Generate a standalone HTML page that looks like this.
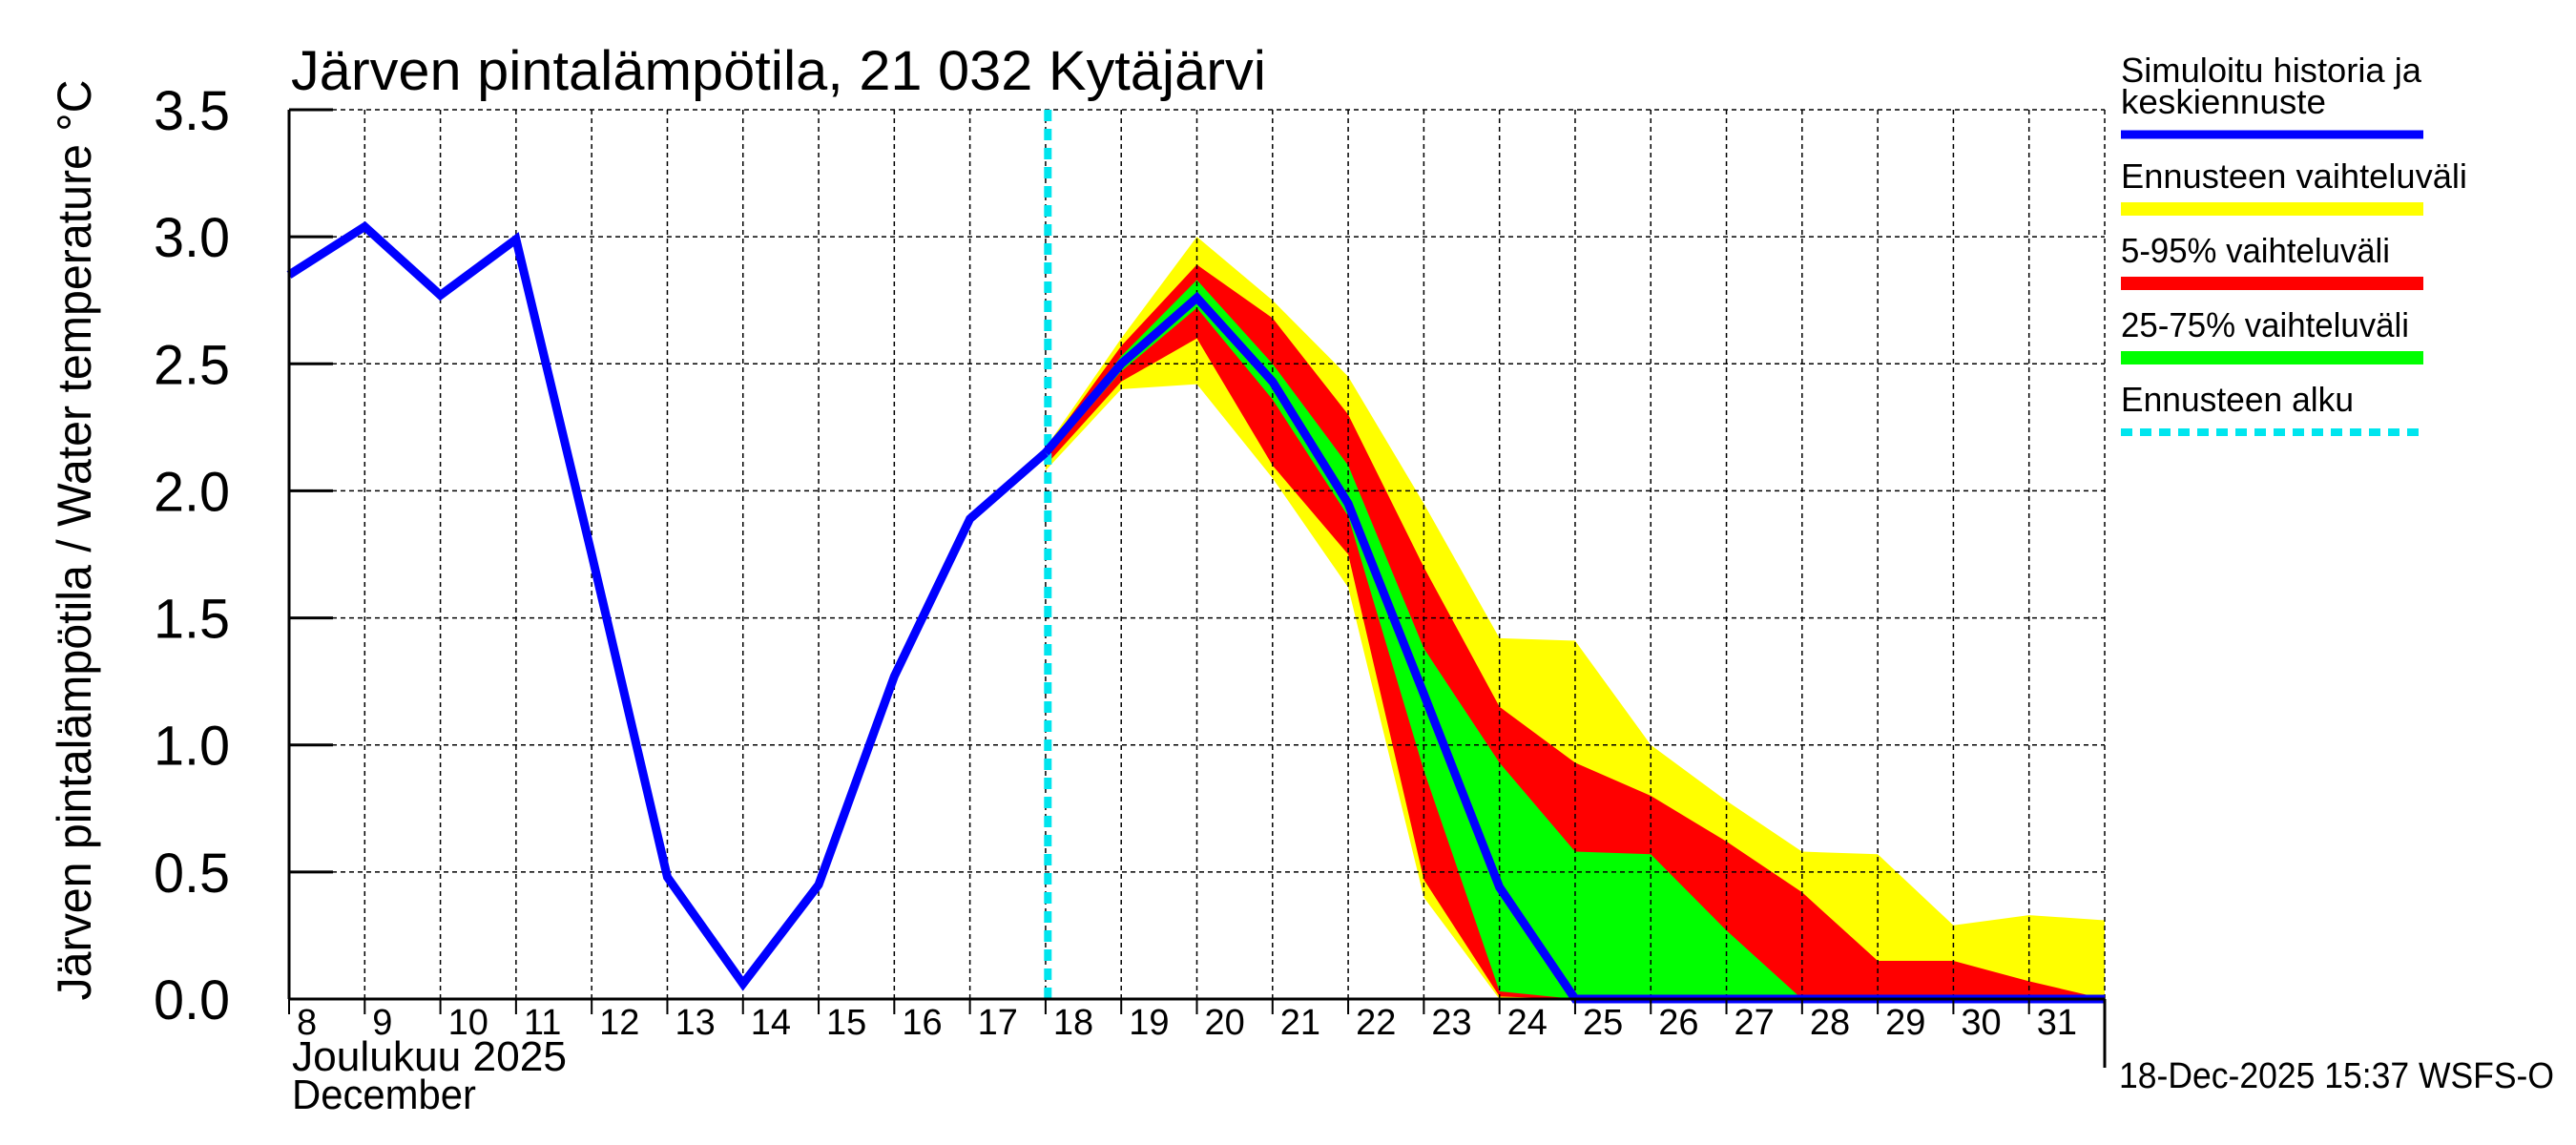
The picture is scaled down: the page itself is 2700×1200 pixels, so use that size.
<!DOCTYPE html>
<html><head><meta charset="utf-8"><title>Järven pintalämpötila</title>
<style>
html,body{margin:0;padding:0;background:#fff;}
svg{display:block;font-family:"Liberation Sans",sans-serif;}
</style></head>
<body>
<svg id="chart" width="2700" height="1200" viewBox="0 0 2700 1200" xmlns="http://www.w3.org/2000/svg">
<g id="bands"></g>
<g id="grid"></g>
<g id="lines"></g>
<g id="axes"></g>
<text x="305" y="94" font-size="58" textLength="1022" lengthAdjust="spacingAndGlyphs">Järven pintalämpötila, 21 032 Kytäjärvi</text>
<text transform="translate(95,566) rotate(-90)" text-anchor="middle" font-size="50" textLength="965" lengthAdjust="spacingAndGlyphs">Järven pintalämpötila / Water temperature °C</text>
<text x="306" y="1122" font-size="44" textLength="288" lengthAdjust="spacingAndGlyphs">Joulukuu  2025</text>
<text x="306" y="1162" font-size="44" textLength="193" lengthAdjust="spacingAndGlyphs">December</text>
<text x="2221" y="1140" font-size="38" textLength="456" lengthAdjust="spacingAndGlyphs">18-Dec-2025 15:37 WSFS-O</text>
<g id="legend">
<text x="2223" y="86" font-size="36" textLength="315" lengthAdjust="spacingAndGlyphs">Simuloitu historia ja</text>
<text x="2223" y="119" font-size="36" textLength="215" lengthAdjust="spacingAndGlyphs">keskiennuste</text>
<line x1="2223" x2="2540" y1="141" y2="141" stroke="#0000ff" stroke-width="9"/>
<text x="2223" y="197" font-size="36" textLength="363" lengthAdjust="spacingAndGlyphs">Ennusteen vaihteluväli</text>
<line x1="2223" x2="2540" y1="219" y2="219" stroke="#ffff00" stroke-width="14"/>
<text x="2223" y="275" font-size="36" textLength="282" lengthAdjust="spacingAndGlyphs">5-95% vaihteluväli</text>
<line x1="2223" x2="2540" y1="297" y2="297" stroke="#ff0000" stroke-width="14"/>
<text x="2223" y="353" font-size="36" textLength="302" lengthAdjust="spacingAndGlyphs">25-75% vaihteluväli</text>
<line x1="2223" x2="2540" y1="375" y2="375" stroke="#00ff00" stroke-width="14"/>
<text x="2223" y="431" font-size="36" textLength="244" lengthAdjust="spacingAndGlyphs">Ennusteen alku</text>
<line x1="2223" x2="2540" y1="453" y2="453" stroke="#00e5ee" stroke-width="8" stroke-dasharray="12,8"/>
</g>
</svg>
<script>
const histDays=[8,9,10,11,12,13,14,15,16,17,18];
const histVals=[2.85,3.04,2.77,2.99,1.75,0.48,0.06,0.45,1.27,1.89,2.15];
const fcDays=[18,19,20,21,22,23,24,25,26,27,28,29,30,31,32];
const fcMean=[2.15,2.5,2.76,2.43,1.95,1.2,0.44,0,0,0,0,0,0,0,0];
const yelHi=[2.17,2.6,3.0,2.75,2.45,1.95,1.42,1.41,1.0,0.78,0.58,0.57,0.29,0.33,0.31];
const yelLo=[2.08,2.4,2.42,2.05,1.62,0.4,0.0,0,0,0,0,0,0,0,0];
const redHi=[2.16,2.57,2.89,2.68,2.3,1.7,1.15,0.93,0.8,0.62,0.42,0.15,0.15,0.07,0.0];
const redLo=[2.1,2.43,2.6,2.1,1.75,0.47,0.01,0,0,0,0,0,0,0,0];
const grnHi=[2.15,2.53,2.83,2.5,2.1,1.38,0.93,0.58,0.57,0.27,0.0,0,0,0,0];
const grnLo=[2.13,2.47,2.72,2.36,1.9,0.9,0.03,0,0,0,0,0,0,0,0];
const yTicks=[0,0.5,1,1.5,2,2.5,3,3.5];
const yTickLabels=["0.0","0.5","1.0","1.5","2.0","2.5","3.0","3.5"];
const xTickDays=[8,9,10,11,12,13,14,15,16,17,18,19,20,21,22,23,24,25,26,27,28,29,30,31];
const forecastStart=18.03;

const L=303,R=2206,T=115,B=1047,D0=8,D1=32,YMAX=3.5;
const NS="http://www.w3.org/2000/svg";
function X(d){return L+(d-D0)/(D1-D0)*(R-L);}
function Y(v){return B-v/YMAX*(B-T);}
function mk(tag,attrs,parent){const e=document.createElementNS(NS,tag);for(const k in attrs)e.setAttribute(k,attrs[k]);parent.appendChild(e);return e;}
const bands=document.getElementById('bands'),grid=document.getElementById('grid'),lines=document.getElementById('lines'),axes=document.getElementById('axes');

function band(hi,lo,color,name){
  let pts=fcDays.map((d,i)=>X(d)+','+Y(hi[i]));
  for(let i=fcDays.length-1;i>=0;i--)pts.push(X(fcDays[i])+','+Y(lo[i]));
  const p=mk('polygon',{points:pts.join(' '),fill:color},bands);
  
  
}
band(yelHi,yelLo,'#ffff00','band-range');
band(redHi,redLo,'#ff0000','band-5-95');
band(grnHi,grnLo,'#00ff00','band-25-75');

yTicks.forEach((v,i)=>{
  if(v>0){const g=mk('line',{x1:L,x2:R,y1:Y(v),y2:Y(v),stroke:'#000','stroke-width':1.5,'stroke-dasharray':'5,4'},grid);
  
  }
  const t=mk('line',{x1:L,x2:L+46,y1:Y(v),y2:Y(v),stroke:'#000','stroke-width':3},axes);
  
  
  const tx=mk('text',{x:241,y:Y(v)+21,'text-anchor':'end','font-size':58,textLength:80,lengthAdjust:'spacingAndGlyphs'},axes);
  tx.textContent=yTickLabels[i];
  
  
});
xTickDays.forEach(d=>{
  if(d>D0){const g=mk('line',{x1:X(d),x2:X(d),y1:T,y2:B,stroke:'#000','stroke-width':1.5,'stroke-dasharray':'5,4'},grid);
  
  }
  const t=mk('line',{x1:X(d),x2:X(d),y1:B,y2:B+16,stroke:'#000','stroke-width':2},axes);
  
  
  const tx=mk('text',{x:X(d)+8,y:B+37,'font-size':38},axes);
  tx.textContent=String(d);
  
  
});
const rg=mk('line',{x1:R,x2:R,y1:T,y2:B,stroke:'#000','stroke-width':1.5,'stroke-dasharray':'5,4'},grid);


const ax=mk('line',{x1:L,x2:L,y1:T,y2:B,stroke:'#000','stroke-width':3},axes);


const bx=mk('line',{x1:L,x2:R,y1:B,y2:B,stroke:'#000','stroke-width':3},axes);


const et=mk('line',{x1:R,x2:R,y1:B,y2:B+72,stroke:'#000','stroke-width':3},axes);



const fl=mk('line',{x1:X(forecastStart),x2:X(forecastStart),y1:T,y2:B,stroke:'#00e5ee','stroke-width':8,'stroke-dasharray':'12,8'},lines);


const hl=mk('polyline',{points:histDays.map((d,i)=>X(d)+','+Y(histVals[i])).join(' '),fill:'none',stroke:'#0000ff','stroke-width':9,'stroke-linejoin':'miter'},lines);


const ml=mk('polyline',{points:fcDays.map((d,i)=>X(d)+','+Y(fcMean[i])).join(' '),fill:'none',stroke:'#0000ff','stroke-width':9},lines);


</script>
</body></html>
